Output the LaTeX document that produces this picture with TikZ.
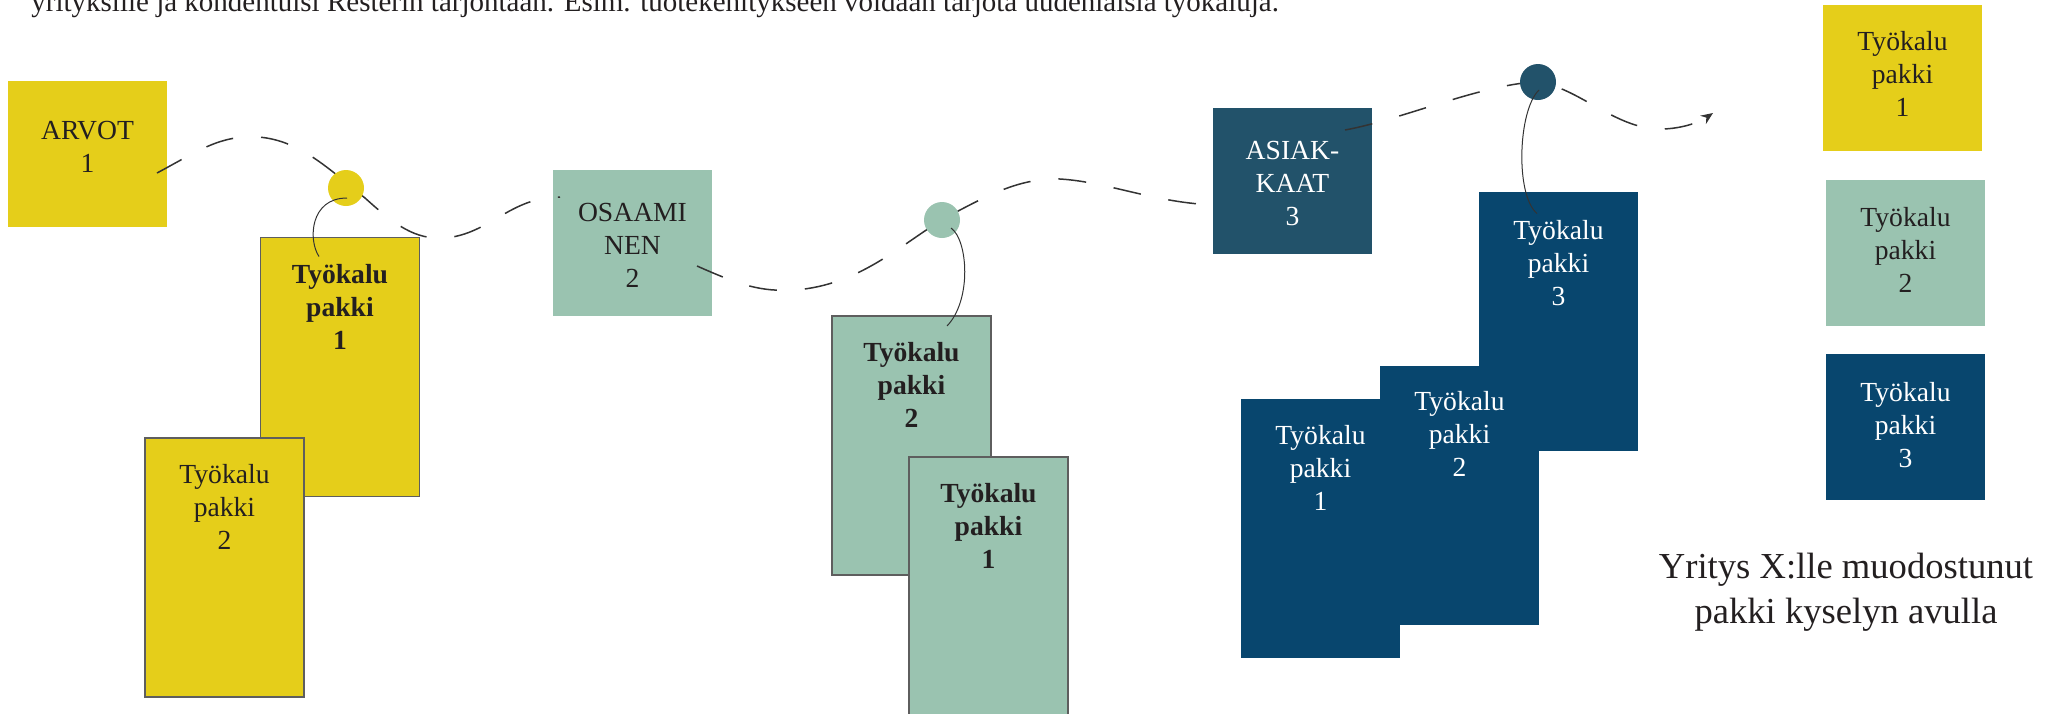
\documentclass[tikz,border=0pt]{standalone}
\usepackage{fontspec}
\setmainfont{Liberation Serif}
\usetikzlibrary{calc,arrows.meta}
\definecolor{cY}{HTML}{E5CE1A}
\definecolor{cG}{HTML}{9AC3B0}
\definecolor{cT}{HTML}{22526A}
\definecolor{cB}{HTML}{08466E}
\definecolor{cTxt}{HTML}{231F20}
\definecolor{cLine}{HTML}{333333}
\definecolor{cBrd}{HTML}{5E5E5E}
\begin{document}
\begin{tikzpicture}[x=0.5pt,y=-0.5pt,
  box/.style={rectangle, inner sep=0pt, outer sep=0pt},
  sq/.style={box, minimum width=79.5pt, minimum height=73pt},
  tall/.style={box, minimum width=79.5pt, minimum height=129.5pt},
  brd/.style={draw=cBrd, line width=0.7pt},
  txt/.style={align=center, inner sep=0pt, text=cTxt, font=\fontsize{13.8}{16.5}\selectfont},
  wtxt/.style={txt, text=white},
  btxt/.style={txt, font=\fontsize{13.8}{16.5}\selectfont\bfseries},
  dot/.style={circle, inner sep=0pt, minimum size=18pt},
  trail/.style={dash pattern=on 14pt off 14pt, line width=0.75pt, draw=cLine},
  tie/.style={draw=cLine, line width=0.5pt},
]
\useasboundingbox (0,0) rectangle (2058,713);
% boxes
\node[sq, fill=cY] (arvot) at (87.5,154) {};
\node[sq, fill=cG] (osaa) at (632.5,243) {};
\node[sq, fill=cT] (asiak) at (1292.5,181) {};
\node[tall, fill=cY, brd] (y1) at (340,367) {};
\node[tall, fill=cY, brd] (y2) at (224.5,567.5) {};
\node[tall, fill=cG, brd] (g2) at (911.5,445.5) {};
\node[tall, fill=cG, brd] (g1) at (988.5,586.5) {};
\node[tall, fill=cB] (b1) at (1320.5,528) {};
\node[tall, fill=cB] (b2) at (1459.5,495) {};
\node[tall, fill=cB] (b3) at (1558.5,321) {};
\node[sq, fill=cY] (r1) at (1902.5,78) {};
\node[sq, fill=cG] (r2) at (1905.5,253) {};
\node[sq, fill=cB] (r3) at (1905.5,427) {};
% dashed trails
\draw[trail] ($(arvot.east)+(-10,19)$) .. controls (200,150) and (220,135) .. (258,137)
  .. controls (300,140) and (330,170) .. (365,198)
  .. controls (395,225) and (415,240) .. (445,238)
  .. controls (490,234) and (510,197) .. ($(osaa.west)+(7,-46)$);
\draw[trail] ($(osaa.east)+(-15,23)$) .. controls (740,285) and (760,292) .. (795,290)
  .. controls (860,285) and (900,245) .. (945,218)
  .. controls (990,194) and (1020,178) .. (1060,179)
  .. controls (1110,182) and (1160,205) .. ($(asiak.west)+(9,24)$);
\coordinate (tip) at (1713,113);
\draw[trail, -{Stealth[length=6pt,width=5pt]}] ($(asiak.east)+(-27,-51)$) .. controls (1400,120) and (1480,85) .. (1535,82)
  .. controls (1575,85) and (1610,125) .. (1655,129)
  .. controls (1680,130) and (1700,122) .. (tip);
% circles
\node[dot, fill=cY] (yc) at (346,188) {};
\node[dot, fill=cG] (gc) at (942,220) {};
\node[dot, fill=cT] (dc) at (1538,82) {};
% ties
\draw[tie] ($(yc)+(1,10)$) .. controls (310,198) and (308,240) .. ($(y1.north)+(-21,19)$);
\draw[tie] ($(gc)+(9,8)$) .. controls (968,240) and (972,300) .. ($(g2.north)+(35.5,10)$);
\draw[tie] ($(dc)+(1,8)$) .. controls (1518,110) and (1515,195) .. ($(b3.north)+(-21.5,22)$);
% texts
\node[txt] (arvott) at (87.5,147) {ARVOT\\1};
\node[txt] (osaat) at (632.5,245) {OSAAMI\\NEN\\2};
\node[wtxt] (asiakt) at (1292.5,183) {ASIAK-\\KAAT\\3};
\node[btxt] (y1t) at (340,307) {Työkalu\\pakki\\1};
\node[txt] (y2t) at (224.5,507) {Työkalu\\pakki\\2};
\node[btxt] (g2t) at (911.5,385) {Työkalu\\pakki\\2};
\node[btxt] (g1t) at (988.5,526) {Työkalu\\pakki\\1};
\node[wtxt] (b1t) at (1320.5,468) {Työkalu\\pakki\\1};
\node[wtxt] (b2t) at (1459.5,434) {Työkalu\\pakki\\2};
\node[wtxt] (b3t) at (1558.5,263) {Työkalu\\pakki\\3};
\node[txt] (r1t) at (1902.5,74) {Työkalu\\pakki\\1};
\node[txt] (r2t) at (1905.5,250) {Työkalu\\pakki\\2};
\node[wtxt] (r3t) at (1905.5,425) {Työkalu\\pakki\\3};
\node[txt, font=\fontsize{18.3}{22.5}\selectfont] (cap) at (1846,592) {Yritys X:lle muodostunut\\pakki kyselyn avulla};
\node[txt, font=\fontsize{14.5}{16}\selectfont, anchor=base west] (top) at (31,11) {yrityksille ja kohdentuisi Resterin tarjontaan. Esim. tuotekehitykseen voidaan tarjota uudenlaisia työkaluja.};
\end{tikzpicture}
\end{document}
